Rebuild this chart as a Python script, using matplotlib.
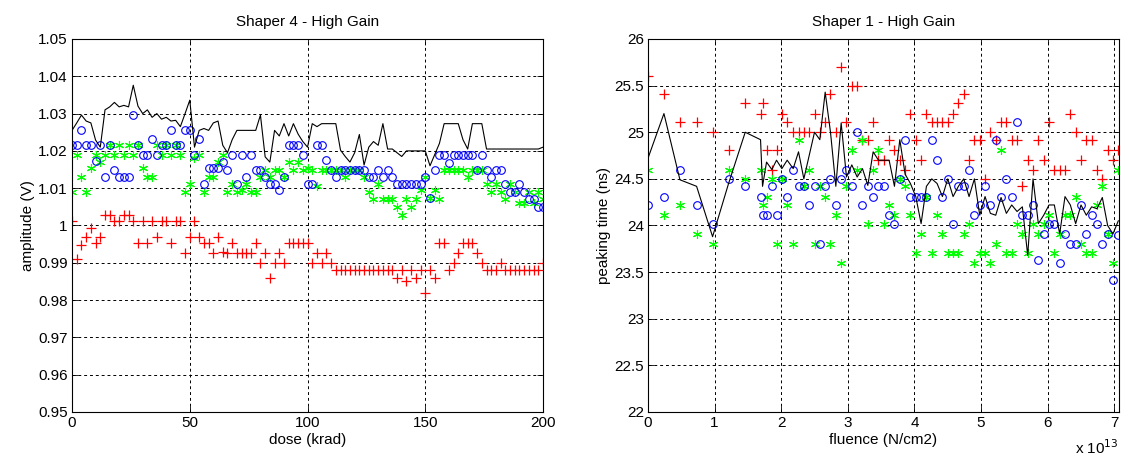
import matplotlib
matplotlib.use("Agg")
import matplotlib.pyplot as plt
import numpy as np

plt.rcParams['font.family'] = ['Liberation Sans', 'DejaVu Sans']
plt.rcParams['font.size'] = 11

# ---- left panel: Shaper 4 - High Gain, amplitude vs dose ----
dose = [0, 2, 4, 6, 8, 10, 12, 14, 16, 18, 20, 22, 24, 26, 28, 30, 32, 34, 36, 38,
        40, 42, 44, 46, 48, 50, 52, 54, 56, 58, 60, 62, 64, 66, 68, 70, 72, 74, 76, 78,
        80, 82, 84, 86, 88, 90, 92, 94, 96, 98, 100, 102, 104, 106, 108, 110, 112, 114, 116, 118,
        120, 122, 124, 126, 128, 130, 132, 134, 136, 138, 140, 142, 144, 146, 148, 150, 152, 154, 156, 158,
        160, 162, 164, 166, 168, 170, 172, 174, 176, 178, 180, 182, 184, 186, 188, 190, 192, 194, 196, 198, 200]

amp_black = [1.0255, 1.0275, 1.0296, 1.0280, 1.0275, 1.0229, 1.0210, 1.0310, 1.0318, 1.0330,
             1.0318, 1.0322, 1.0318, 1.0376, 1.0320, 1.0300, 1.0310, 1.0290, 1.0300, 1.0285,
             1.0290, 1.0280, 1.0282, 1.0265, 1.0300, 1.0336, 1.0210, 1.0255, 1.0260, 1.0255,
             1.0275, 1.0280, 1.0215, 1.0195, 1.0230, 1.0255, 1.0255, 1.0255, 1.0255, 1.0255,
             1.0296, 1.0184, 1.0170, 1.0255, 1.0240, 1.0273, 1.0240, 1.0273, 1.0245, 1.0225,
             1.0210, 1.0273, 1.0265, 1.0273, 1.0273, 1.0273, 1.0273, 1.0202, 1.0185, 1.0170,
             1.0195, 1.0244, 1.0162, 1.0210, 1.0225, 1.0215, 1.0273, 1.0205, 1.0205, 1.0195,
             1.0185, 1.0200, 1.0200, 1.0200, 1.0200, 1.0200, 1.0160, 1.0190, 1.0220, 1.0273,
             1.0273, 1.0273, 1.0273, 1.0230, 1.0205, 1.0273, 1.0273, 1.0273, 1.0205, 1.0205,
             1.0205, 1.0205, 1.0205, 1.0205, 1.0205, 1.0205, 1.0205, 1.0205, 1.0205, 1.0205, 1.0210]

amp_blue = [1.0215, 1.0215, 1.0255, 1.0215, 1.0215, 1.0173, 1.0215, 1.0130, 1.0215, 1.0150,
            1.0130, 1.0130, 1.0130, 1.0296, 1.0215, 1.0190, 1.0190, 1.0233, 1.0190, 1.0215,
            1.0215, 1.0255, 1.0215, 1.0215, 1.0255, 1.0255, 1.0190, 1.0233, 1.0110, 1.0153,
            1.0153, 1.0153, 1.0170, 1.0150, 1.0190, 1.0110, 1.0190, 1.0130, 1.0190, 1.0150,
            1.0150, 1.0130, 1.0110, 1.0110, 1.0095, 1.0130, 1.0215, 1.0215, 1.0215, 1.0190,
            1.0110, 1.0110, 1.0215, 1.0215, 1.0175, 1.0150, 1.0130, 1.0150, 1.0150, 1.0150,
            1.0150, 1.0150, 1.0150, 1.0130, 1.0130, 1.0150, 1.0130, 1.0150, 1.0130, 1.0110,
            1.0110, 1.0110, 1.0110, 1.0110, 1.0110, 1.0130, 1.0075, 1.0150, 1.0190, 1.0190,
            1.0167, 1.0190, 1.0190, 1.0190, 1.0190, 1.0190, 1.0150, 1.0190, 1.0150, 1.0130,
            1.0150, 1.0150, 1.0110, 1.0090, 1.0090, 1.0110, 1.0090, 1.0070, 1.0070, 1.0050, 1.0050]

amp_green = [1.0090, 1.0190, 1.0130, 1.0090, 1.0153, 1.0190, 1.0171, 1.0190, 1.0215, 1.0190,
             1.0215, 1.0190, 1.0215, 1.0190, 1.0215, 1.0153, 1.0130, 1.0130, 1.0215, 1.0190,
             1.0215, 1.0190, 1.0215, 1.0190, 1.0090, 1.0110, 1.0180, 1.0190, 1.0090, 1.0130,
             1.0130, 1.0170, 1.0190, 1.0090, 1.0110, 1.0090, 1.0095, 1.0110, 1.0090, 1.0090,
             1.0130, 1.0150, 1.0130, 1.0150, 1.0150, 1.0130, 1.0170, 1.0150, 1.0170, 1.0150,
             1.0153, 1.0150, 1.0105, 1.0150, 1.0150, 1.0150, 1.0150, 1.0150, 1.0130, 1.0150,
             1.0150, 1.0150, 1.0130, 1.0090, 1.0072, 1.0110, 1.0072, 1.0072, 1.0072, 1.0050,
             1.0028, 1.0072, 1.0050, 1.0072, 1.0095, 1.0130, 1.0075, 1.0095, 1.0072, 1.0150,
             1.0150, 1.0150, 1.0150, 1.0150, 1.0130, 1.0150, 1.0150, 1.0150, 1.0110, 1.0090,
             1.0110, 1.0090, 1.0070, 1.0110, 1.0090, 1.0060, 1.0060, 1.0090, 1.0060, 1.0090, 1.0070]

amp_red = [1.0011, 0.9910, 0.9948, 0.9970, 0.9993, 0.9953, 0.9970, 1.0028, 1.0028, 1.0011,
           1.0011, 1.0028, 1.0028, 1.0011, 0.9953, 1.0011, 0.9953, 1.0011, 0.9970, 1.0011,
           1.0011, 0.9953, 1.0011, 1.0011, 0.9926, 0.9970, 1.0011, 0.9970, 0.9953, 0.9953,
           0.9926, 0.9970, 0.9930, 0.9926, 0.9953, 0.9926, 0.9926, 0.9926, 0.9926, 0.9953,
           0.9900, 0.9926, 0.9860, 0.9900, 0.9926, 0.9900, 0.9953, 0.9953, 0.9953, 0.9953,
           0.9953, 0.9900, 0.9926, 0.9900, 0.9926, 0.9900, 0.9880, 0.9880, 0.9880, 0.9880,
           0.9880, 0.9880, 0.9880, 0.9880, 0.9880, 0.9880, 0.9880, 0.9880, 0.9880, 0.9860,
           0.9880, 0.9850, 0.9880, 0.9860, 0.9880, 0.9820, 0.9880, 0.9860, 0.9953, 0.9953,
           0.9880, 0.9900, 0.9926, 0.9953, 0.9953, 0.9953, 0.9926, 0.9900, 0.9880, 0.9880,
           0.9880, 0.9900, 0.9880, 0.9880, 0.9880, 0.9880, 0.9880, 0.9880, 0.9880, 0.9880, 0.9900]

# ---- right panel: Shaper 1 - High Gain, peaking time vs fluence (x 1e13) ----
fluence = [0.00, 0.24, 0.48, 0.73, 0.97, 1.21, 1.46, 1.69, 1.72, 1.78,
           1.86, 1.93, 2.01, 2.09, 2.18, 2.26, 2.34, 2.42, 2.50, 2.58,
           2.66, 2.74, 2.82, 2.90, 2.98, 3.06, 3.14, 3.22, 3.30, 3.38,
           3.46, 3.54, 3.62, 3.70, 3.78, 3.86, 3.94, 4.02, 4.10, 4.18,
           4.26, 4.34, 4.42, 4.50, 4.58, 4.66, 4.74, 4.82, 4.90, 4.98,
           5.06, 5.14, 5.22, 5.30, 5.38, 5.46, 5.54, 5.62, 5.70, 5.78,
           5.86, 5.94, 6.02, 6.10, 6.18, 6.26, 6.34, 6.42, 6.50, 6.58,
           6.66, 6.74, 6.82, 6.90, 6.98, 7.06]

pt_red = [25.60, 25.41, 25.11, 25.11, 25.00, 24.81, 25.31, 25.20, 25.31, 24.81,
          24.60, 24.81, 25.20, 25.11, 25.00, 25.00, 25.00, 25.00, 25.20, 25.00,
          25.11, 25.41, 25.00, 25.70, 25.11, 25.50, 25.50, 24.92, 24.92, 25.11,
          24.70, 24.70, 24.92, 24.81, 24.70, 24.60, 25.20, 24.92, 24.70, 25.20,
          25.11, 25.11, 25.11, 25.11, 25.20, 25.31, 25.41, 24.70, 24.92, 24.92,
          24.50, 25.00, 24.92, 25.11, 25.11, 24.92, 24.92, 24.42, 24.70, 24.60,
          24.92, 24.70, 25.11, 24.60, 24.60, 24.60, 25.20, 25.00, 24.70, 24.92,
          24.92, 24.60, 24.50, 24.81, 24.70, 24.81]

pt_blue = [24.22, 24.31, 24.60, 24.22, 24.02, 24.50, 24.42, 24.31, 24.11, 24.11,
           24.42, 24.11, 24.50, 24.31, 24.60, 24.42, 24.42, 24.22, 24.42, 23.80,
           24.42, 24.50, 24.22, 24.50, 24.60, 24.42, 25.00, 24.22, 24.42, 24.31,
           24.42, 24.42, 24.11, 24.02, 24.50, 24.92, 24.31, 24.31, 24.31, 24.31,
           24.92, 24.70, 24.31, 24.50, 24.02, 24.42, 24.42, 24.60, 24.11, 24.22,
           24.42, 24.22, 24.92, 24.31, 24.50, 24.31, 25.11, 24.11, 24.11, 24.22,
           23.63, 23.91, 24.02, 24.02, 23.60, 23.91, 23.80, 23.80, 24.22, 23.91,
           24.11, 24.02, 23.80, 23.91, 23.42, 23.90]

pt_green = [24.60, 24.11, 24.22, 23.91, 23.80, 24.60, 24.50, 24.60, 24.22, 24.31,
            24.50, 23.80, 24.50, 24.22, 23.80, 24.92, 24.42, 24.60, 23.80, 24.42,
            24.31, 23.80, 24.11, 23.60, 24.42, 24.81, 24.60, 24.92, 24.02, 24.60,
            24.81, 24.02, 24.22, 24.11, 24.50, 24.42, 24.11, 23.70, 23.91, 24.31,
            23.70, 24.11, 23.91, 23.70, 23.70, 23.70, 23.91, 24.02, 23.60, 23.70,
            23.70, 23.60, 23.80, 24.81, 23.70, 23.70, 24.02, 23.91, 23.70, 24.02,
            23.91, 24.02, 24.11, 23.70, 23.91, 24.11, 24.11, 24.31, 23.80, 23.70,
            23.70, 24.22, 24.42, 23.91, 23.60, 24.60]

pt_black = [24.72, 25.20, 24.49, 24.42, 23.88, 24.45, 25.00, 24.92, 24.42, 24.68,
            24.60, 24.70, 24.61, 24.70, 24.61, 24.79, 24.50, 24.75, 25.00, 24.92,
            25.43, 25.00, 24.42, 25.10, 24.52, 24.65, 24.52, 24.61, 24.43, 24.79,
            24.70, 24.70, 24.70, 24.42, 24.92, 24.55, 24.45, 24.31, 24.02, 24.42,
            24.50, 24.45, 24.31, 24.50, 24.31, 24.42, 24.50, 24.31, 24.50, 24.11,
            24.31, 24.13, 24.11, 24.30, 24.13, 24.22, 24.15, 24.20, 23.68, 24.50,
            24.02, 24.11, 24.22, 24.22, 23.91, 24.31, 24.22, 24.02, 24.22, 24.11,
            24.20, 24.18, 24.30, 24.00, 23.91, 24.05]

asterisk = (6, 2, 0)

fig = plt.figure(figsize=(11.22, 4.57), dpi=100)
ax1 = fig.add_axes([0.0642, 0.0985, 0.4198, 0.8162])
ax2 = fig.add_axes([0.5775, 0.0985, 0.4198, 0.8162])


def style(ax):
    ax.grid(True, color='black', linestyle=(0, (3, 3)), linewidth=0.7)
    ax.tick_params(direction='in', top=True, right=True, length=4, width=0.6, labelsize=11, pad=3)
    for s in ax.spines.values():
        s.set_linewidth(0.8)


def draw(ax, x, red, green, blue, black):
    ax.plot(x, red, linestyle='none', marker='+', color='red', markersize=6.5, markeredgewidth=0.9)
    ax.plot(x, green, linestyle='none', marker=asterisk, color='#00ff00', markersize=6.5, markeredgewidth=0.8)
    ax.plot(x, blue, linestyle='none', marker='o', markerfacecolor='none', markeredgecolor='blue',
            markersize=5.5, markeredgewidth=0.8)
    ax.plot(x, black, color='black', linewidth=0.8)


draw(ax1, dose, amp_red, amp_green, amp_blue, amp_black)
ax1.set_xlim(0, 200)
ax1.set_ylim(0.95, 1.05)
ax1.set_xticks([0, 50, 100, 150, 200])
ax1.set_yticks([0.95, 0.96, 0.97, 0.98, 0.99, 1.0, 1.01, 1.02, 1.03, 1.04, 1.05])
ax1.set_yticklabels(['0.95', '0.96', '0.97', '0.98', '0.99', '1', '1.01', '1.02', '1.03', '1.04', '1.05'])
ax1.set_xlabel('dose (krad)', labelpad=2)
ax1.set_ylabel('amplitude (V)', labelpad=2)
ax1.set_title('Shaper 4 - High Gain', fontsize=11, pad=9)
style(ax1)

draw(ax2, fluence, pt_red, pt_green, pt_blue, pt_black)
ax2.set_xlim(0, 7.07)
ax2.set_ylim(22, 26)
ax2.set_xticks([0, 1, 2, 3, 4, 5, 6, 7])
ax2.set_yticks([22, 22.5, 23, 23.5, 24, 24.5, 25, 25.5, 26])
ax2.set_yticklabels(['22', '22.5', '23', '23.5', '24', '24.5', '25', '25.5', '26'])
ax2.set_xlabel('fluence (N/cm2)', labelpad=2)
ax2.set_ylabel('peaking time (ns)', labelpad=2)
ax2.set_title('Shaper 1 - High Gain', fontsize=11, pad=9)
style(ax2)
fig.text(0.997, 0.0, r'x 10$^{13}$', fontsize=11, ha='right', va='bottom')

fig.savefig('out.png', dpi=100)
